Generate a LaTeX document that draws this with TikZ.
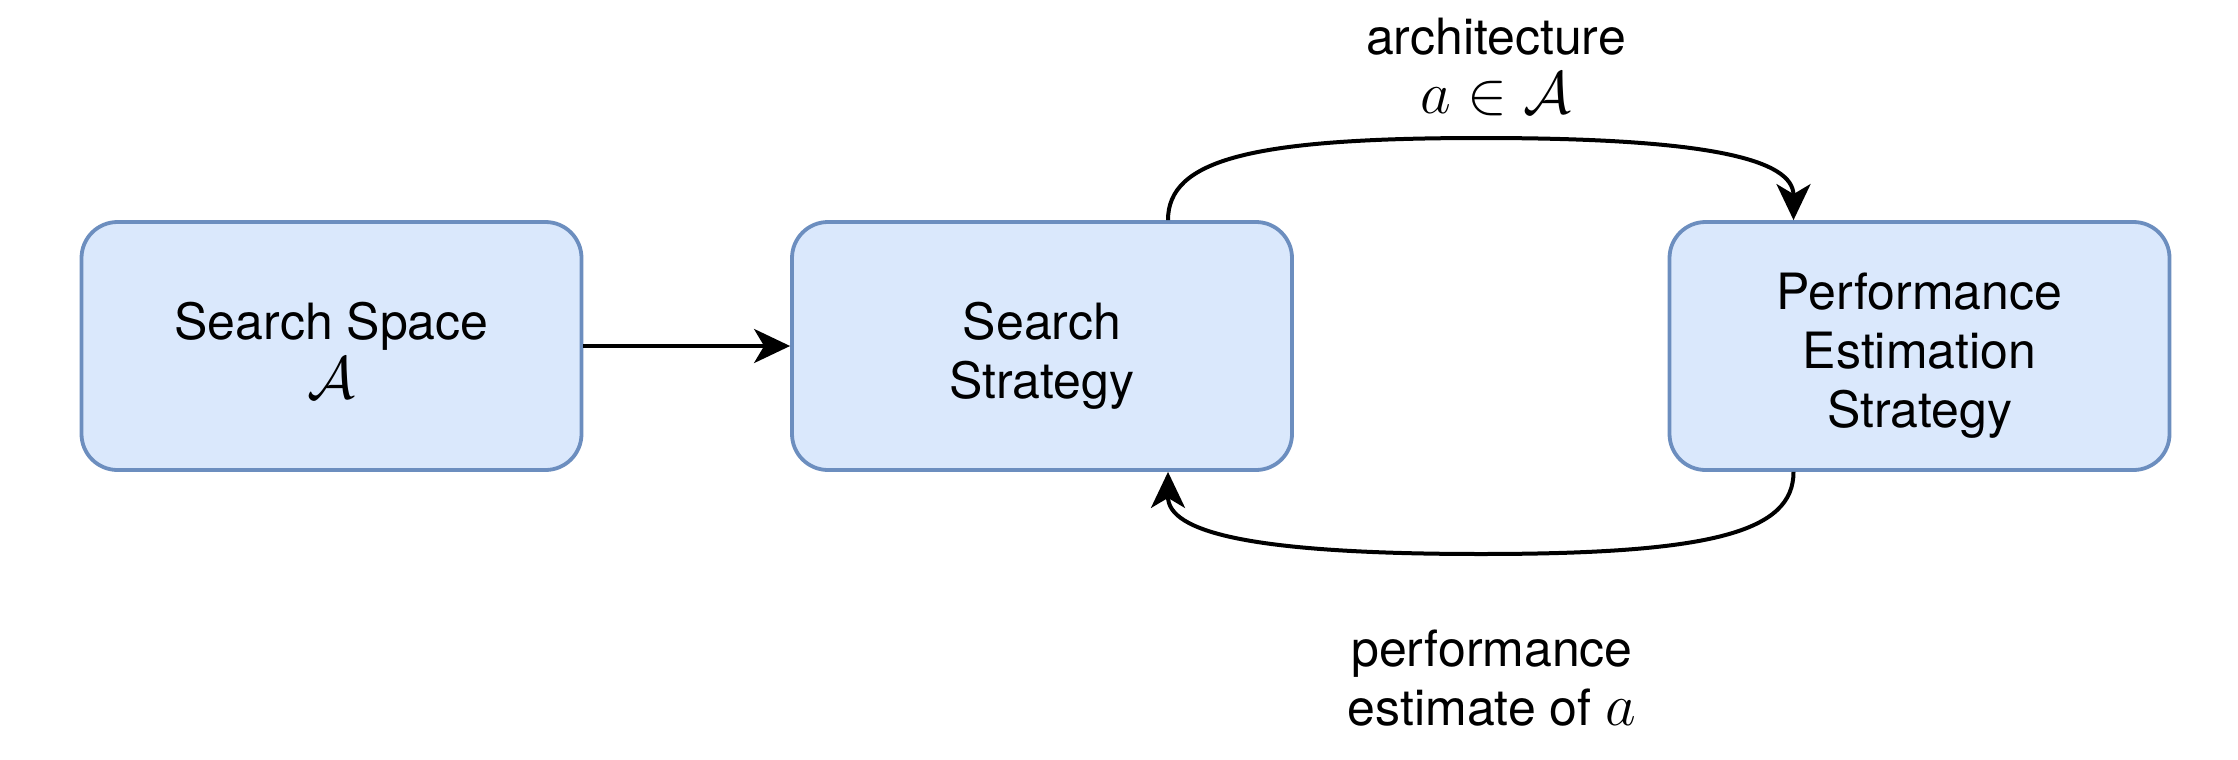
\documentclass[tikz,border=0pt]{standalone}
\usepackage{fontspec}
\setmainfont{TeX Gyre Heros}
\usetikzlibrary{arrows.meta}
\definecolor{boxfill}{HTML}{DAE8FC}
\definecolor{boxdraw}{HTML}{6C8EBF}
\newcommand{\topstrut}{\rule{0pt}{28pt}}
\newcommand{\botstrut}{\rule[-5pt]{0pt}{5pt}}
\newcommand{\bigmath}[1]{\scalebox{1.2}{$#1$}}
\tikzset{
  blockbox/.style={draw=boxdraw, fill=boxfill, line width=1.9pt, rounded corners=18pt,
    minimum width=250pt, minimum height=124pt, inner sep=0pt, align=center,
    font=\fontsize{25}{29.5}\selectfont},
  lbl/.style={inner sep=0pt, align=center, font=\fontsize{25}{29.5}\selectfont},
  conn/.style={line width=2pt, -{Stealth[length=18pt,width=17pt,inset=5pt]}}
}
\begin{document}
\begin{tikzpicture}[x=0.5pt,y=-0.5pt]
\useasboundingbox (0,0) rectangle (2238,760);
\node[blockbox] (ss) at (331.5,346) {\topstrut Search Space\\\bigmath{\mathcal{A}}\botstrut};
\node[blockbox] (st) at (1042,346) {\topstrut Search\\Strategy\botstrut};
\node[blockbox] (pe) at (1919.5,346) {\topstrut Performance\\Estimation\\Strategy\botstrut};
\coordinate (stt) at ([xshift=63pt]st.north);
\coordinate (stb) at ([xshift=63pt]st.south);
\coordinate (pet) at ([xshift=-63pt]pe.north);
\coordinate (peb) at ([xshift=-63pt]pe.south);
\coordinate (topmid) at (1481,138);
\coordinate (botmid) at (1481,554);
\draw[conn] (ss.east) -- (st.west);
\draw[conn] (stt) .. controls ([yshift=30pt]stt) and (1250,138) .. (topmid)
  .. controls (1712,138) and ([yshift=30pt]pet) .. (pet);
\draw[conn] (peb) .. controls ([yshift=-30pt]peb) and (1712,554) .. (botmid)
  .. controls (1250,554) and ([yshift=-30pt]stb) .. (stb);
\node[lbl] (archlbl) at (1496,67) {architecture\\\bigmath{a\in\mathcal{A}}};
\node[lbl] (perflbl) at (1492,678) {performance\\estimate of \bigmath{a}};
\end{tikzpicture}
\end{document}
